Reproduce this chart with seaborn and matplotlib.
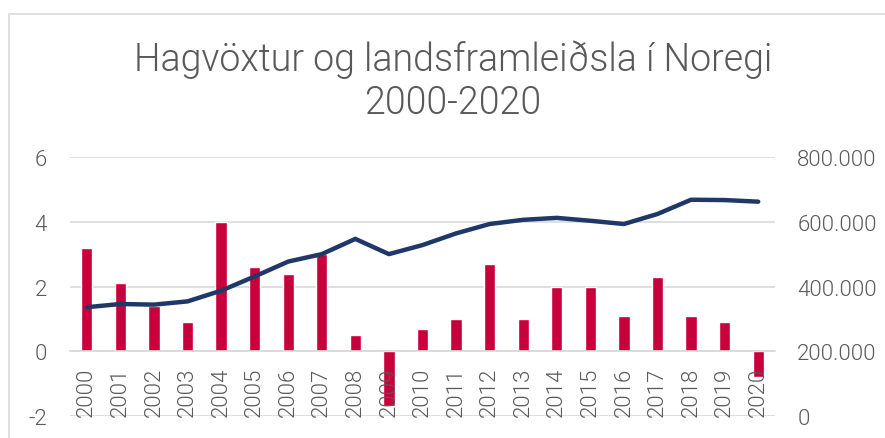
import numpy as np
import pandas as pd
import seaborn as sns
import matplotlib.pyplot as plt
from matplotlib.patches import Rectangle
from matplotlib.ticker import FuncFormatter

# Gögn lesin af myndinni
ar = [str(y) for y in range(2000, 2021)]
hagvoxtur = [3.2, 2.1, 1.4, 0.9, 4.0, 2.6, 2.4, 3.0, 0.5, -1.7, 0.7,
             1.0, 2.7, 1.0, 2.0, 2.0, 1.1, 2.3, 1.1, 0.9, -0.8]
vlf = [336000, 346000, 344000, 354000, 387000, 431000, 477000, 500000, 547000, 500000, 528000,
       564000, 593000, 606000, 612000, 603000, 593000, 624000, 668000, 667000, 662000]
left_ticks = [-2, 0, 2, 4, 6]
right_ticks = [0, 200000, 400000, 600000, 800000]
title = "Hagvöxtur og landsframleiðsla í Noregi\n2000-2020"

RED = "#C8003C"
NAVY = "#1F3869"
GREY = "#595959"
GRID = "#D9D9D9"

sns.set_theme(style="white")
plt.rcParams["font.family"] = ["Roboto", "DejaVu Sans"]
plt.rcParams["font.weight"] = 300
plt.rcParams["axes.unicode_minus"] = False
plt.rcParams["text.color"] = GREY

df = pd.DataFrame({"ar": ar, "hagvoxtur": hagvoxtur, "vlf": vlf})

fig = plt.figure(figsize=(8.85, 4.39), dpi=100)
ax = fig.add_axes([70 / 885, 1 - 417 / 439, 705 / 885, 259 / 439])
ax2 = ax.twinx()

sns.barplot(data=df, x="ar", y="hagvoxtur", ax=ax, color=RED, width=0.34,
            saturation=1, errorbar=None, zorder=2)
sns.pointplot(data=df, x="ar", y="vlf", ax=ax2, color=NAVY, errorbar=None,
              markers="", linewidth=3.2)

ax.set_ylim(-2, 6)
ax.set_yticks(left_ticks)
ax2.set_ylim(0, 800000)
ax2.set_yticks(right_ticks)
ax2.yaxis.set_major_formatter(FuncFormatter(lambda v, p: f"{int(v):,}".replace(",", ".")))
ax.set_xlim(-0.5, 20.5)
ax2.set_xlim(-0.5, 20.5)

ax.grid(axis="y", color=GRID, lw=1.2, zorder=0)
ax.set_axisbelow(True)
for a in (ax, ax2):
    for s in a.spines.values():
        s.set_visible(False)
    a.set_xlabel("")
    a.set_ylabel("")
ax.spines["bottom"].set_visible(True)
ax.spines["bottom"].set_position(("data", 0))
ax.spines["bottom"].set_color(GRID)
ax.spines["bottom"].set_linewidth(1.2)

# arin eru skrifud a efri asinn svo thau lendi ofan a sulunum (0 vinstra megin = 200.000 haegra megin)
ax2.xaxis.set_visible(True)
ax2.spines["bottom"].set_position(("data", 200000))
ax.tick_params(axis="x", length=0, labelbottom=False)
ax2.tick_params(axis="x", length=0, pad=11, labelsize=16, labelcolor=GREY,
                labelrotation=90, labelbottom=True, labeltop=False)
ax.tick_params(axis="y", length=0, pad=16.5, labelsize=16, labelcolor=GREY)
ax2.tick_params(axis="y", length=0, pad=16, labelsize=16, labelcolor=GREY)
for lab in ax2.get_xticklabels() + ax.get_yticklabels() + ax2.get_yticklabels():
    lab.set_fontweight(300)

# linan ofan a sulunum
ax.set_zorder(1)
ax2.set_zorder(2)
ax.patch.set_visible(False)
ax2.patch.set_visible(False)

fig.text(453 / 885, 1 - 81 / 439, title, ha="center", va="center", fontsize=27,
         color=GREY, fontweight=300, linespacing=1.2)

fig.add_artist(Rectangle((9 / 885, -0.2), 1.5, 1.2 - 15 / 439, fill=False, ec=GRID,
                         lw=1.2, transform=fig.transFigure))

fig.savefig("out.png", dpi=100, facecolor="white")
